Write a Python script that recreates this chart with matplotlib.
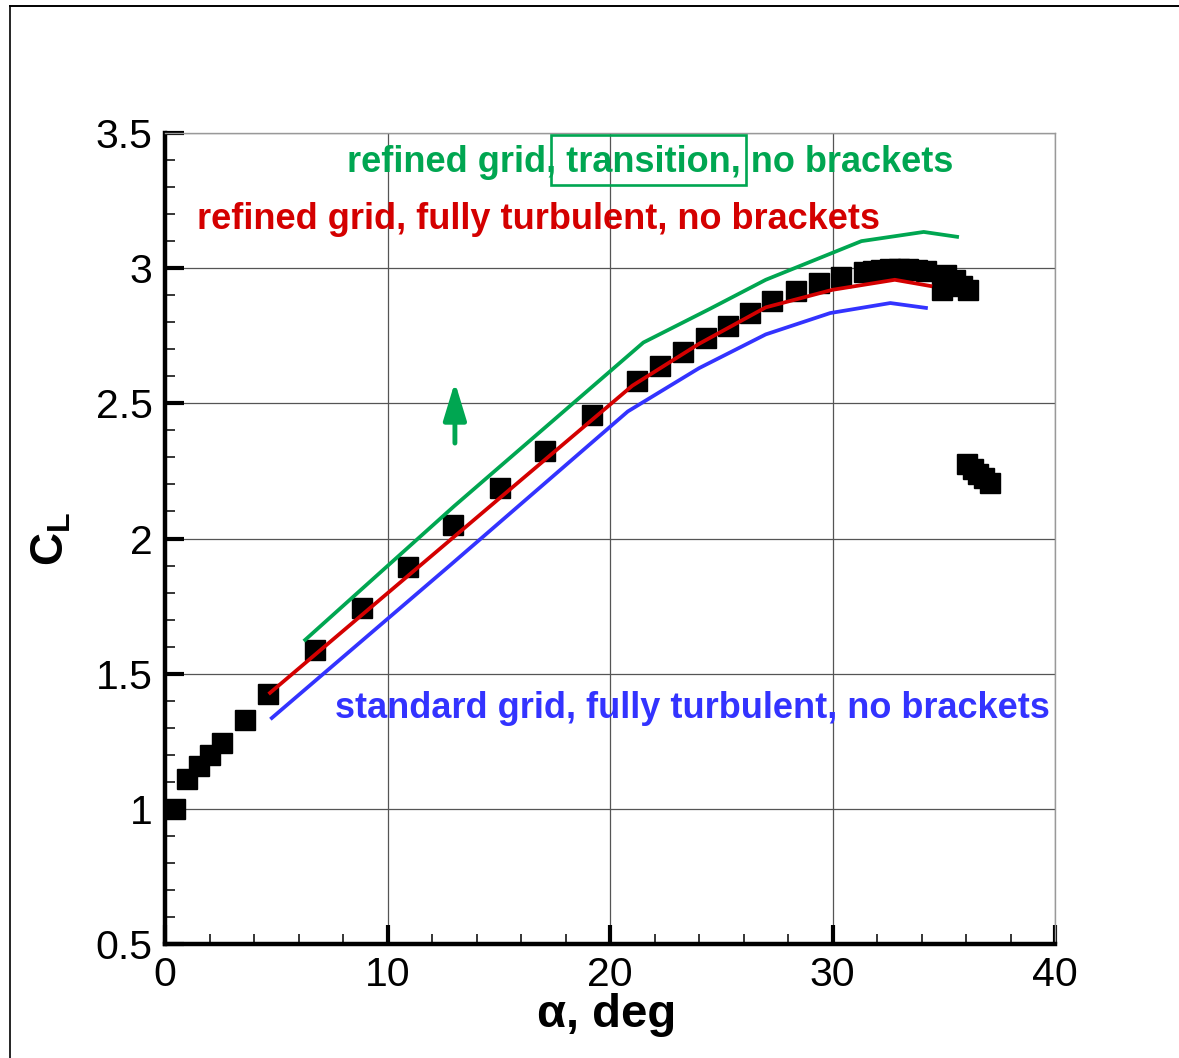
import matplotlib
matplotlib.use('Agg')
import matplotlib.pyplot as plt
from matplotlib.lines import Line2D
from matplotlib.patches import Rectangle
from matplotlib.ticker import MultipleLocator

plt.rcParams['font.family'] = ['Liberation Sans', 'DejaVu Sans']
plt.rcParams['mathtext.fontset'] = 'custom'
plt.rcParams['mathtext.bf'] = 'Liberation Sans:bold'
plt.rcParams['mathtext.rm'] = 'Liberation Sans'

# ---- experiment (black squares) ----
exp_alpha = [0.47, 1.0, 1.53, 2.0, 2.56, 3.6, 4.63, 6.74, 8.85, 10.9, 12.94,
             15.06, 17.1, 19.2, 21.2, 22.25, 23.3, 24.3, 25.3, 26.3, 27.3,
             28.36, 29.4, 30.4, 31.4, 31.8, 32.2, 32.6, 33.0, 33.4, 33.8,
             34.2, 34.9, 35.1, 35.5, 35.8, 36.1,
             36.04, 36.3, 36.55, 36.8, 37.08]
exp_cl = [1.0, 1.11, 1.16, 1.20, 1.244, 1.33, 1.425, 1.588, 1.743, 1.895, 2.05,
          2.187, 2.324, 2.457, 2.583, 2.638, 2.69, 2.74, 2.786, 2.834, 2.879,
          2.916, 2.945, 2.968, 2.986, 2.99, 2.994, 2.997, 2.998, 2.997, 2.994,
          2.99, 2.92, 2.975, 2.955, 2.935, 2.92,
          2.276, 2.258, 2.24, 2.222, 2.205]

# ---- CFD curves ----
trans_alpha = [6.3, 13.0, 21.5, 24.5, 27.0, 31.3, 34.1, 35.6]
trans_cl = [1.625, 2.12, 2.725, 2.85, 2.957, 3.10, 3.134, 3.116]

turb_alpha = [4.72, 12.9, 21.0, 24.0, 27.0, 30.0, 32.8, 34.4]
turb_cl = [1.429, 2.0, 2.565, 2.72, 2.855, 2.92, 2.957, 2.934]

std_alpha = [4.8, 12.8, 20.8, 24.0, 27.0, 29.9, 32.6, 34.2]
std_cl = [1.336, 1.90, 2.47, 2.63, 2.755, 2.834, 2.871, 2.853]

GREEN = '#00a651'
RED = '#d40000'
BLUE = '#3333ff'

W, H = 1179, 1058
fig = plt.figure(figsize=(W / 100, H / 100), dpi=100)
ax = fig.add_axes([165 / W, 114 / H, 890 / W, 811 / H])

ax.set_xlim(0, 40)
ax.set_ylim(0.5, 3.5)
ax.xaxis.set_minor_locator(MultipleLocator(2))
ax.yaxis.set_minor_locator(MultipleLocator(0.1))
ax.set_xticks([0, 10, 20, 30, 40])
ax.set_xticklabels(['0', '10', '20', '30', '40'])
ax.set_yticks([0.5, 1, 1.5, 2, 2.5, 3, 3.5])
ax.set_yticklabels(['0.5', '1', '1.5', '2', '2.5', '3', '3.5'])

ax.grid(True, which='major', color='#555555', lw=0.9, zorder=0)
ax.set_axisbelow(True)
ax.tick_params(which='major', direction='in', length=14, width=3,
               labelsize=29.5, pad=9)
ax.tick_params(which='minor', direction='in', length=7, width=1.1)
ax.tick_params(top=False, right=False, which='both')

for s in ['left', 'bottom']:
    ax.spines[s].set_linewidth(3.2)
for s in ['top', 'right']:
    ax.spines[s].set_linewidth(1.0)
    ax.spines[s].set_color('#999999')

ax.plot(exp_alpha, exp_cl, 's', color='black', ms=14.4, mec='black', zorder=3)
ax.plot(std_alpha, std_cl, '-', color=BLUE, lw=2.7, zorder=4)
ax.plot(turb_alpha, turb_cl, '-', color=RED, lw=2.7, zorder=4)
ax.plot(trans_alpha, trans_cl, '-', color=GREEN, lw=2.7, zorder=4)

# annotations
ax.text(8.18, 3.356, 'refined grid, transition, no brackets', color=GREEN,
        fontsize=26, fontweight='bold', ha='left', va='baseline')
ax.text(1.44, 3.145, 'refined grid, fully turbulent, no brackets', color=RED,
        fontsize=26, fontweight='bold', ha='left', va='baseline')
ax.text(7.64, 1.336, 'standard grid, fully turbulent, no brackets', color=BLUE,
        fontsize=26, fontweight='bold', ha='left', va='baseline')
ax.add_patch(Rectangle((17.35, 3.308), 26.11 - 17.35, 3.4926 - 3.308,
                       fill=False, ec=GREEN, lw=1.9, clip_on=False, zorder=5))
ax.annotate('', xy=(13.03, 2.579), xytext=(13.03, 2.353),
            arrowprops=dict(arrowstyle='-|>,head_length=2.3,head_width=0.7',
                            color=GREEN, lw=3.5, shrinkA=0, shrinkB=0,
                            mutation_scale=10))

ax.text(0.4966, -0.0875, 'α, deg', transform=ax.transAxes,
        fontsize=34, fontweight='bold', ha='center', va='center')
ax.text(-0.127, 0.5, r'$\mathbf{C}_\mathbf{L}$', transform=ax.transAxes,
        fontsize=33, rotation=90, ha='center', va='center')

# frame around the picture
fig.add_artist(Line2D([10 / W, 10 / W], [0, 1 - 6 / H], color='black',
                      lw=1.2, transform=fig.transFigure))
fig.add_artist(Line2D([10 / W, 1], [1 - 6 / H, 1 - 6 / H], color='black',
                      lw=1.4, transform=fig.transFigure))

fig.savefig('out.png', dpi=100)
